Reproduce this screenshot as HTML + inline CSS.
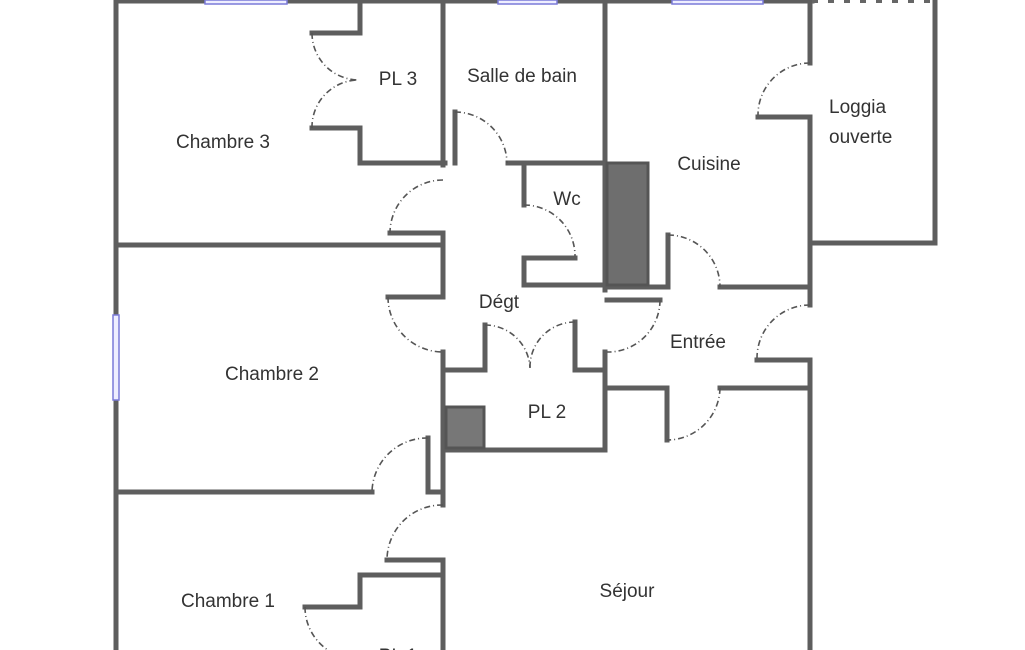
<!DOCTYPE html>
<html><head><meta charset="utf-8"><style>
html,body{margin:0;padding:0;background:#fff;}
svg{display:block;}
text{font-family:"Liberation Sans",sans-serif;font-size:19px;fill:#333;text-anchor:middle;}
</style></head><body>
<svg width="1025" height="650" viewBox="0 0 1025 650" xmlns="http://www.w3.org/2000/svg">
<g stroke="#5e5e5e" stroke-width="5" fill="none" stroke-linecap="square">
<line x1="116" y1="0" x2="116" y2="650"/>
<line x1="116" y1="1" x2="812" y2="1"/>
<line x1="935" y1="0" x2="935" y2="243"/>
<line x1="812" y1="243" x2="935" y2="243"/>
<line x1="810" y1="0" x2="810" y2="63"/>
<line x1="810" y1="118" x2="810" y2="305"/>
<line x1="810" y1="360" x2="810" y2="650"/>
<line x1="360" y1="0" x2="360" y2="33"/>
<line x1="312" y1="33" x2="360" y2="33"/>
<line x1="312" y1="128" x2="360" y2="128"/>
<line x1="360" y1="128" x2="360" y2="163"/>
<line x1="360" y1="163" x2="445" y2="163"/>
<line x1="443" y1="0" x2="443" y2="165"/>
<line x1="443" y1="233" x2="443" y2="245"/>
<line x1="390" y1="233" x2="443" y2="233"/>
<line x1="116" y1="245" x2="443" y2="245"/>
<line x1="443" y1="245" x2="443" y2="297"/>
<line x1="388" y1="297" x2="443" y2="297"/>
<line x1="443" y1="352" x2="443" y2="505"/>
<line x1="443" y1="560" x2="443" y2="650"/>
<line x1="455" y1="112" x2="455" y2="163"/>
<line x1="508" y1="163" x2="605" y2="163"/>
<line x1="605" y1="0" x2="605" y2="290"/>
<line x1="524" y1="163" x2="524" y2="205"/>
<line x1="524" y1="258" x2="575" y2="258"/>
<line x1="524" y1="258" x2="524" y2="285"/>
<line x1="524" y1="285" x2="605" y2="285"/>
<line x1="605" y1="287" x2="668" y2="287"/>
<line x1="668" y1="235" x2="668" y2="287"/>
<line x1="720" y1="287" x2="810" y2="287"/>
<line x1="758" y1="117" x2="810" y2="117"/>
<line x1="607" y1="300" x2="660" y2="300"/>
<line x1="605" y1="352" x2="605" y2="450"/>
<line x1="605" y1="388" x2="667" y2="388"/>
<line x1="667" y1="388" x2="667" y2="440"/>
<line x1="720" y1="388" x2="810" y2="388"/>
<line x1="757" y1="360" x2="810" y2="360"/>
<line x1="443" y1="370" x2="485" y2="370"/>
<line x1="575" y1="370" x2="605" y2="370"/>
<line x1="485" y1="325" x2="485" y2="370"/>
<line x1="575" y1="322" x2="575" y2="370"/>
<line x1="443" y1="450" x2="605" y2="450"/>
<line x1="428" y1="438" x2="428" y2="492"/>
<line x1="116" y1="492" x2="372" y2="492"/>
<line x1="428" y1="492" x2="443" y2="492"/>
<line x1="387" y1="560" x2="443" y2="560"/>
<line x1="360" y1="575" x2="443" y2="575"/>
<line x1="360" y1="575" x2="360" y2="607"/>
<line x1="305" y1="607" x2="360" y2="607"/>
</g>
<rect x="607" y="163" width="41" height="122" fill="#6e6e6e" stroke="#555" stroke-width="3"/>
<rect x="446" y="407" width="38" height="41" fill="#777" stroke="#555" stroke-width="3"/>
<g fill="#eef" stroke="#7a7ad8" stroke-width="1.5">
<rect x="205" y="0" width="82" height="4"/>
<rect x="498" y="0" width="59" height="4"/>
<rect x="672" y="0" width="91" height="4"/>
<rect x="113" y="315" width="6" height="85"/>
</g>
<line x1="812" y1="1" x2="935" y2="1" stroke="#666" stroke-width="4" stroke-dasharray="6 10"/>
<g stroke="#555" stroke-width="1.6" fill="none" stroke-dasharray="6 3 1 3">
<path d="M312 33 A47 47 0 0 0 358 80"/>
<path d="M312 128 A47 47 0 0 1 358 80"/>
<path d="M455 112 A52 52 0 0 1 507 163"/>
<path d="M443 180 A53 53 0 0 0 390 233"/>
<path d="M524 205 A51 51 0 0 1 575 256"/>
<path d="M668 235 A52 52 0 0 1 720 287"/>
<path d="M810 63 A52 52 0 0 0 758 115"/>
<path d="M388 297 A55 55 0 0 0 443 352"/>
<path d="M660 300 A52 52 0 0 1 607 352"/>
<path d="M810 305 A53 53 0 0 0 757 358"/>
<path d="M485 325 A45 45 0 0 1 530 368"/>
<path d="M575 322 A45 45 0 0 0 530 368"/>
<path d="M720 388 A53 53 0 0 1 667 440"/>
<path d="M428 438 A55 55 0 0 0 372 492"/>
<path d="M443 505 A55 55 0 0 0 387 560"/>
<path d="M305 607 A52 52 0 0 0 357 659"/>
</g>
<text x="223" y="148">Chambre 3</text>
<text x="398" y="85">PL 3</text>
<text x="522" y="82">Salle de bain</text>
<text x="709" y="170">Cuisine</text>
<text x="829" y="113" style="text-anchor:start">Loggia</text>
<text x="829" y="143" style="text-anchor:start">ouverte</text>
<text x="567" y="205">Wc</text>
<text x="499" y="308">Dégt</text>
<text x="698" y="348">Entrée</text>
<text x="272" y="380">Chambre 2</text>
<text x="547" y="418">PL 2</text>
<text x="228" y="607">Chambre 1</text>
<text x="627" y="597">Séjour</text>
<text x="398" y="662">PL 1</text>
</svg>
</body></html>
